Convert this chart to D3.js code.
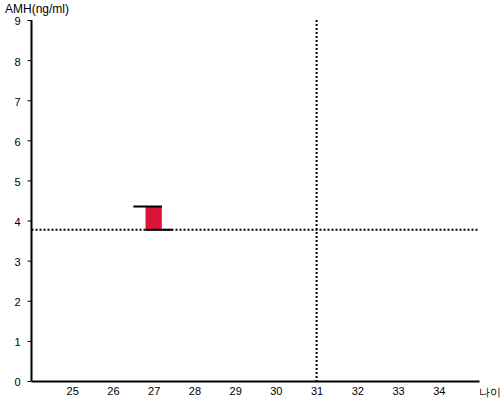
<!DOCTYPE html>
<html>
<head>
<meta charset="utf-8">
<script src="https://cdn.jsdelivr.net/npm/d3@7"></script>
<style>
  body { margin: 0; background: #fff; }
  text { font-family: "Liberation Sans", Arial, sans-serif; }
</style>
</head>
<body>
<svg id="canvas" width="500" height="400"></svg>
<script>
// data
const xTicks = [25, 26, 27, 28, 29, 30, 31, 32, 33, 34];
const yTicks = [0, 1, 2, 3, 4, 5, 6, 7, 8, 9];
const refAge = 31;        // vertical dotted line
const refAmh = 3.77;      // horizontal dotted line
const barAge = [26.8, 27.2];
const barAmh = [3.77, 4.35];
const topMark = [26.5, 27.2];
const bottomMark = [26.8, 27.45];

let svg = d3.select("#canvas");

let x = d3.scaleLinear().domain([24, 35]).range([31.5, 479.5]);
let y = d3.scaleLinear().domain([0, 9]).range([381, 20]);

// y axis
let yAxis = svg.append("g")
  .attr("transform", "translate(31.5,0)")
  .call(d3.axisLeft(y).tickValues(yTicks).tickSize(4).tickPadding(7).tickFormat(d3.format("d")));
yAxis.select(".domain").attr("stroke", "#000").attr("stroke-width", 2).attr("d", "M0,20V381");
yAxis.selectAll(".tick line").attr("stroke", "#000");
yAxis.selectAll(".tick text").attr("font-size", 11).attr("fill", "#000").attr("dy", "0.45em");

// x axis
let xAxis = svg.append("g")
  .attr("transform", "translate(0,381.5)")
  .call(d3.axisBottom(x).tickValues(xTicks).tickSize(0).tickPadding(6).tickFormat(d3.format("d")));
xAxis.select(".domain").attr("stroke", "#000").attr("stroke-width", 2).attr("d", "M31.5,0H479.5");
xAxis.selectAll(".tick text").attr("font-size", 11).attr("fill", "#000");

// axis titles
svg.append("text").attr("x", 5).attr("y", 13).attr("font-size", 12).text("AMH(ng/ml)");
svg.append("text").attr("x", 479).attr("y", 396).attr("font-size", 11)
  .attr("font-family", "'Noto Sans CJK KR', sans-serif").text("나이");

// reference lines
svg.append("line")
  .attr("x1", x(24)).attr("x2", x(35))
  .attr("y1", y(refAmh)).attr("y2", y(refAmh))
  .attr("stroke", "#000").attr("stroke-width", 2).attr("stroke-dasharray", "2,2");
svg.append("line")
  .attr("x1", x(refAge)).attr("x2", x(refAge))
  .attr("y1", y(9)).attr("y2", y(0))
  .attr("stroke", "#000").attr("stroke-width", 2).attr("stroke-dasharray", "2,2");

// bar
svg.append("rect")
  .attr("x", x(barAge[0])).attr("width", x(barAge[1]) - x(barAge[0]))
  .attr("y", y(barAmh[1])).attr("height", y(barAmh[0]) - y(barAmh[1]))
  .attr("fill", "#dc143c");
svg.append("line")
  .attr("x1", x(topMark[0])).attr("x2", x(topMark[1]))
  .attr("y1", y(barAmh[1])).attr("y2", y(barAmh[1]))
  .attr("stroke", "#000").attr("stroke-width", 2);
svg.append("line")
  .attr("x1", x(bottomMark[0])).attr("x2", x(bottomMark[1]))
  .attr("y1", y(barAmh[0])).attr("y2", y(barAmh[0]))
  .attr("stroke", "#000").attr("stroke-width", 2);
</script>
</body>
</html>
